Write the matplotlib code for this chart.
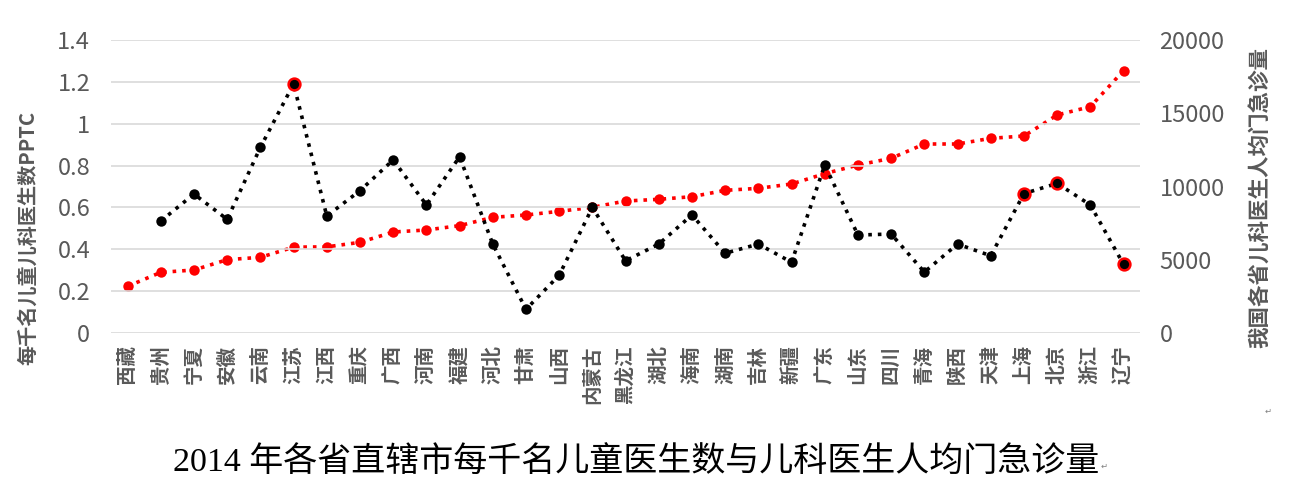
import numpy as np
import matplotlib
matplotlib.use("Agg")
import matplotlib.pyplot as plt

plt.rcParams['font.family'] = ['Noto Sans CJK SC', 'DejaVu Sans']

provinces = ['西藏', '贵州', '宁夏', '安徽', '云南', '江苏', '江西', '重庆', '广西', '河南',
             '福建', '河北', '甘肃', '山西', '内蒙古', '黑龙江', '湖北', '海南', '湖南', '吉林',
             '新疆', '广东', '山东', '四川', '青海', '陕西', '天津', '上海', '北京', '浙江', '辽宁']

pptc = [np.nan, 0.535, 0.664, 0.543, 0.887, 1.19, 0.559, 0.680, 0.827, 0.612,
        0.842, 0.425, 0.113, 0.276, 0.600, 0.345, 0.425, 0.564, 0.381, 0.425,
        0.338, 0.803, 0.468, 0.473, 0.291, 0.425, 0.369, 0.666, 0.715, 0.612, 0.328]

visits = [3186, 4141, 4300, 5006, 5165, 5860, 5880, 6188, 6894, 7031,
          7327, 7895, 8055, 8305, 8578, 9010, 9124, 9306, 9738, 9875,
          10171, 10876, 11468, 11923, 12901, 12901, 13288, 13447, 14881, 15449, 17906]

highlighted = ['江苏', '上海', '北京', '辽宁']

left_ticks = [0, 0.2, 0.4, 0.6, 0.8, 1.0, 1.2, 1.4]
left_ticklabels = ['0', '0.2', '0.4', '0.6', '0.8', '1', '1.2', '1.4']
right_ticks = [0, 5000, 10000, 15000, 20000]

title = '2014 年各省直辖市每千名儿童医生数与儿科医生人均门急诊量'
left_label = '每千名儿童儿科医生数PPTC'
right_label = '我国各省儿科医生人均门急诊量'

gray = '#595959'

fig = plt.figure(figsize=(13.09, 5.0), dpi=100)
ax = fig.add_axes([0.0848, 0.334, 0.7862, 0.586])
ax2 = ax.twinx()

x = np.arange(len(provinces))

ax2.plot(x, visits, color='#ff0000', linestyle=':', linewidth=2.6,
         marker='o', markersize=7.5, markeredgewidth=0, zorder=2)
ax.plot(x, pptc, color='black', linestyle=':', linewidth=2.6,
        marker='o', markersize=7.5, markeredgewidth=0, zorder=3)
hx = [provinces.index(p) for p in highlighted]
ax.plot(hx, [pptc[i] for i in hx], linestyle='none', marker='o', markersize=8.5,
        markerfacecolor='black', markeredgecolor='#ff0000', markeredgewidth=1.8, zorder=4)

ax.set_zorder(ax2.get_zorder() + 1)
ax.patch.set_visible(False)

ax.set_xlim(-0.5, len(provinces) - 0.5)
ax.set_ylim(0, 1.4)
ax2.set_ylim(0, 20000)

ax.set_yticks(left_ticks)
ax.set_yticklabels(left_ticklabels)
ax2.set_yticks(right_ticks)

ax.grid(axis='y', color='#d9d9d9', linewidth=1.2)
ax.set_axisbelow(True)

for a in (ax, ax2):
    for s in a.spines.values():
        s.set_visible(False)
    a.tick_params(length=0, labelsize=17, labelcolor=gray)

ax.tick_params(axis='y', pad=15)
ax2.tick_params(axis='y', pad=14)

ax.set_xticks(x)
ax.set_xticklabels(provinces, rotation=90, fontsize=14, fontweight='bold', color=gray)
ax.tick_params(axis='x', pad=9)

ax.set_ylabel(left_label, fontsize=14.5, fontweight='bold', color=gray)
ax.yaxis.set_label_coords(-0.071, 0.324)
ax2.set_ylabel(right_label, fontsize=15.5, fontweight='bold', color=gray, rotation=90)
ax2.yaxis.set_label_coords(1.106, 0.464)

fig.text(0.486, 0.075, title, ha='center', va='center', fontsize=24.5,
         family=['Liberation Serif', 'Noto Sans CJK SC'], color='black')
fig.text(1268 / 1309, 1 - 411 / 500, '↵', fontsize=6, color='#808080',
         family='DejaVu Sans', ha='center', va='center')
fig.text(1104 / 1309, 1 - 466 / 500, '↵', fontsize=6, color='#808080',
         family='DejaVu Sans', ha='center', va='center')

fig.savefig('out.png', dpi=100)
